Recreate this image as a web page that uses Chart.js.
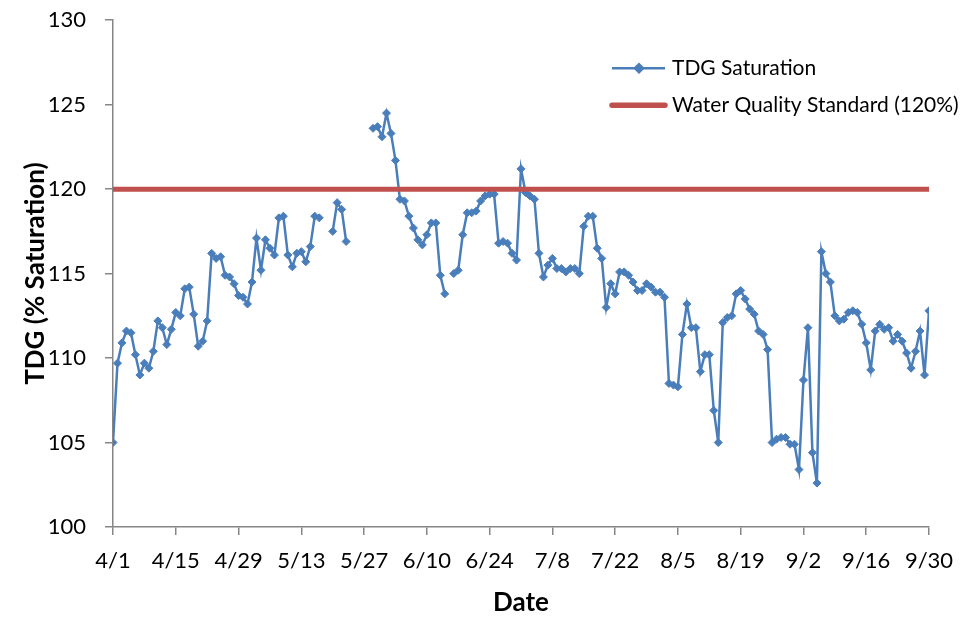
<!DOCTYPE html>
<html>
<head>
<meta charset="utf-8">
<script src="https://cdn.jsdelivr.net/npm/chart.js@4.4.1/dist/chart.umd.min.js"></script>
<style>
  html, body { margin: 0; padding: 0; background: #fff; }
  #wrap { width: 976px; height: 618px; overflow: hidden; }
  /* the y tick padding pushes the plot top down, so the canvas is a bit taller and shifted up */
  #chart { display: block; margin-top: -12px; }
</style>
</head>
<body>
<div id="wrap"><canvas id="chart" width="976" height="630"></canvas></div>
<script>
// tick labels on the date axis, one every 14 days starting 4/1
const dateTicks = ['4/1', '4/15', '4/29', '5/13', '5/27', '6/10', '6/24', '7/8', '7/22', '8/5', '8/19', '9/2', '9/16', '9/30'];

// daily TDG saturation (%), 4/1 .. 9/30, null = no reading
const tdgApr = [105.0, 109.7, 110.9, 111.6, 111.5, 110.2, 109.0, 109.7, 109.4, 110.4,
  112.2, 111.8, 110.8, 111.7, 112.7, 112.5, 114.1, 114.2, 112.6, 110.7,
  111.0, 112.2, 116.2, 115.9, 116.0, 114.9, 114.8, 114.4, 113.7, 113.6];
const tdgMay = [113.2, 114.5, 117.1, 115.2, 117.0, 116.5, 116.1, 118.3, 118.4, 116.1,
  115.4, 116.2, 116.3, 115.7, 116.6, 118.4, 118.3, null, null, 117.5,
  119.2, 118.8, 116.9, null, null, null, null, null, 123.6, 123.7, 123.1];
const tdgJun = [124.5, 123.3, 121.7, 119.4, 119.3, 118.4, 117.7, 117.0, 116.7, 117.3,
  118.0, 118.0, 114.9, 113.8, null, 115.0, 115.2, 117.3, 118.6, 118.6,
  118.7, 119.3, 119.6, 119.7, 119.7, 116.8, 116.9, 116.8, 116.2, 115.8];
const tdgJul = [121.2, 119.8, 119.6, 119.4, 116.2, 114.8, 115.5, 115.9, 115.3, 115.3,
  115.1, 115.3, 115.3, 115.0, 117.8, 118.4, 118.4, 116.5, 115.9, 113.0,
  114.4, 113.8, 115.1, 115.1, 114.9, 114.5, 114.0, 114.0, 114.4, 114.2, 113.9];
const tdgAug = [113.9, 113.6, 108.5, 108.4, 108.3, 111.4, 113.2, 111.8, 111.8, 109.2,
  110.2, 110.2, 106.9, 105.0, 112.1, 112.4, 112.5, 113.8, 114.0, 113.5,
  112.9, 112.6, 111.6, 111.4, 110.5, 105.0, 105.2, 105.3, 105.3, 104.9, 104.9];
const tdgSep = [103.4, 108.7, 111.8, 104.4, 102.6, 116.3, 115.0, 114.5, 112.5, 112.2,
  112.3, 112.7, 112.8, 112.7, 112.0, 110.9, 109.3, 111.6, 112.0, 111.7,
  111.8, 111.0, 111.4, 111.0, 110.3, 109.4, 110.4, 111.6, 109.0, 112.8];

const tdg = [...tdgApr, ...tdgMay, ...tdgJun, ...tdgJul, ...tdgAug, ...tdgSep];
const standard = 120;
const lastDay = tdg.length - 1;

const blue = '#4A7EBB';
const red = '#C0504D';
const axisGray = '#868686';
const fontFam = 'Lato, "Liberation Sans", sans-serif';

// legend drawn inside the plot, like the Excel original
const insideLegend = {
    id: 'insideLegend',
    afterDraw(chart) {
        const ctx = chart.ctx;
        const area = chart.chartArea;
        const x0 = area.right - 317;
        const items = [
            { text: 'TDG Saturation', color: blue, width: 2.5, y: area.top + 48, marker: true },
            { text: 'Water Quality Standard (120%)', color: red, width: 5.5, y: area.top + 85, marker: false }
        ];
        ctx.save();
        items.forEach(it => {
            ctx.strokeStyle = it.color;
            ctx.lineWidth = it.width;
            ctx.lineCap = it.marker ? 'butt' : 'round';
            ctx.beginPath();
            ctx.moveTo(x0, it.y);
            ctx.lineTo(x0 + 53, it.y);
            ctx.stroke();
            if (it.marker) {
                Chart.helpers.drawPoint(ctx, { pointStyle: 'rectRot', radius: 4, borderWidth: 1 }, x0 + 27, it.y);
                ctx.fillStyle = it.color;
                ctx.fill();
            }
            ctx.fillStyle = '#000';
            ctx.font = '21px ' + fontFam;
            ctx.textBaseline = 'middle';
            ctx.textAlign = 'left';
            ctx.fillText(it.text, x0 + 60, it.y);
        });
        ctx.restore();
    }
};

new Chart(document.getElementById('chart'), {
    type: 'line',
    data: {
        datasets: [
            {
                label: 'Water Quality Standard (120%)',
                data: [{ x: 0, y: standard }, { x: lastDay, y: standard }],
                borderColor: red,
                borderWidth: 5,
                pointRadius: 0,
                order: 0
            },
            {
                label: 'TDG Saturation',
                data: tdg.map((v, i) => ({ x: i, y: v })),
                borderColor: blue,
                borderWidth: 2.5,
                pointStyle: 'rectRot',
                pointRadius: 4,
                pointBorderWidth: 1,
                pointBackgroundColor: blue,
                pointBorderColor: blue,
                spanGaps: false,
                tension: 0,
                order: 1
            }
        ]
    },
    options: {
        responsive: false,
        animation: false,
        layout: { padding: { top: 8, right: 47, left: 0, bottom: 0 } },
        plugins: {
            legend: { display: false },
            tooltip: { enabled: false }
        },
        scales: {
            x: {
                type: 'linear',
                min: 0,
                max: lastDay,
                afterFit: s => { s.height = 91; },
                grid: { drawOnChartArea: false, drawTicks: true, tickLength: 8, color: axisGray, lineWidth: 1.5 },
                border: { color: axisGray, width: 1.5 },
                ticks: {
                    stepSize: 14,
                    autoSkip: false,
                    maxRotation: 0,
                    padding: 13,
                    color: '#000',
                    font: { family: fontFam, size: 22 },
                    callback: v => dateTicks[v / 14]
                },
                title: {
                    display: true,
                    text: 'Date',
                    color: '#000',
                    font: { family: fontFam, size: 26, weight: 'bold' },
                    padding: { top: 0, bottom: 0 }
                }
            },
            y: {
                min: 100,
                max: 130,
                afterFit: s => { s.width = 113; },
                grid: { drawOnChartArea: false, drawTicks: true, tickLength: 8, color: axisGray, lineWidth: 1.5 },
                border: { color: axisGray, width: 1.5 },
                ticks: {
                    stepSize: 5,
                    padding: 19,
                    color: '#000',
                    font: { family: fontFam, size: 22 }
                },
                title: {
                    display: true,
                    text: 'TDG (% Saturation)',
                    color: '#000',
                    font: { family: fontFam, size: 26, weight: 'bold' },
                    padding: { top: 20, bottom: 0 }
                }
            }
        }
    },
    plugins: [insideLegend]
});
</script>
</body>
</html>
